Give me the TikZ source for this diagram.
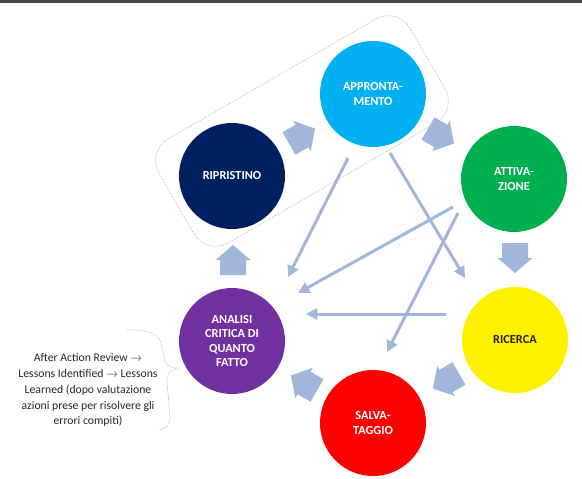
\documentclass[tikz,border=0pt]{standalone}
\usepackage{fontspec}
\setmainfont{Carlito}
\usetikzlibrary{arrows.meta}

\definecolor{arrowblue}{RGB}{160,182,218}
\definecolor{cyanblue}{RGB}{0,176,240}
\definecolor{navy}{RGB}{0,32,96}
\definecolor{leafgreen}{RGB}{0,176,80}
\definecolor{violet}{RGB}{112,48,160}

\tikzset{
  phase/.style={circle, minimum size=3.18cm, inner sep=0pt, align=center,
    text=white, font=\fontsize{10.5}{12.5}\selectfont\bfseries},
  link/.style={arrowblue, line width=0.9mm, -{Triangle[length=3.4mm,width=3.4mm]}},
  frame/.style={draw=gray!80, densely dotted, line width=0.5pt}
}

\begin{document}
\begin{tikzpicture}[x=0.03cm,y=-0.03cm]
\useasboundingbox (0,0) rectangle (582,479);
\fill[black!72] (0,0) rectangle (582,3.5);

% gruppo ripristino / approntamento
\node[frame, rounded corners=0.75cm, rotate=30, minimum width=8.7cm,
  minimum height=3.6cm, inner sep=0pt] (grp) at (302,131) {};

\node[phase, fill=cyanblue] (appr) at (373,94) {APPRONTA-\\MENTO};
\node[phase, fill=leafgreen] (attiv) at (514,179) {ATTIVA-\\ZIONE};
\node[phase, fill=yellow, text=black!85] (ricer) at (515,340) {RICERCA};
\node[phase, fill=red] (salva) at (373,423) {SALVA-\\TAGGIO};
\node[phase, fill=violet] (anal) at (232,341) {ANALISI\\CRITICA DI\\QUANTO\\FATTO};
\node[phase, fill=navy] (ripr) at (232,176) {RIPRISTINO};

% frecce a blocco del ciclo
\foreach \x/\y/\a in {302/136/30,441/136/-30,515/258/-90,446/381/-150,304/383/150,233/260/90}
    \fill[arrowblue, shift={(\x,\y)}, rotate=\a]
      (-15,-13) -- (0,-13) -- (0,-17.5) -- (15,0) -- (0,17.5) -- (0,13) -- (-15,13) -- cycle;

% frecce verso l'analisi
\coordinate (s1) at (348,158); \coordinate (e1) at (288,277);
\coordinate (s2) at (390,153); \coordinate (e2) at (465,278);
\coordinate (s3) at (453,207); \coordinate (e3) at (298,293);
\coordinate (s4) at (458,213); \coordinate (e4) at (387,352);
\coordinate (s5) at (446,314); \coordinate (e5) at (306,314);
\foreach \i in {1,...,5}
    \draw[link] (s\i) -- (e\i);

\node[align=center, text=black!85, font=\fontsize{10}{13.6}\selectfont] (note) at (88,390)
  {After Action Review $\rightarrow$\\Lessons Identified $\rightarrow$ Lessons\\Learned (dopo valutazione\\azioni prese per risolvere gli\\errori compiti)};
\coordinate (tip) at (178,368);
\draw[frame] (127,330) .. controls (148,329) and (160,334) .. (162,346) -- (164,358)
  .. controls (165,365) and (170,368) .. (tip)
  .. controls (170,370) and (166,374) .. (167,382) -- (170,416)
  .. controls (171,425) and (165,430) .. (157,430);
\end{tikzpicture}
\end{document}
